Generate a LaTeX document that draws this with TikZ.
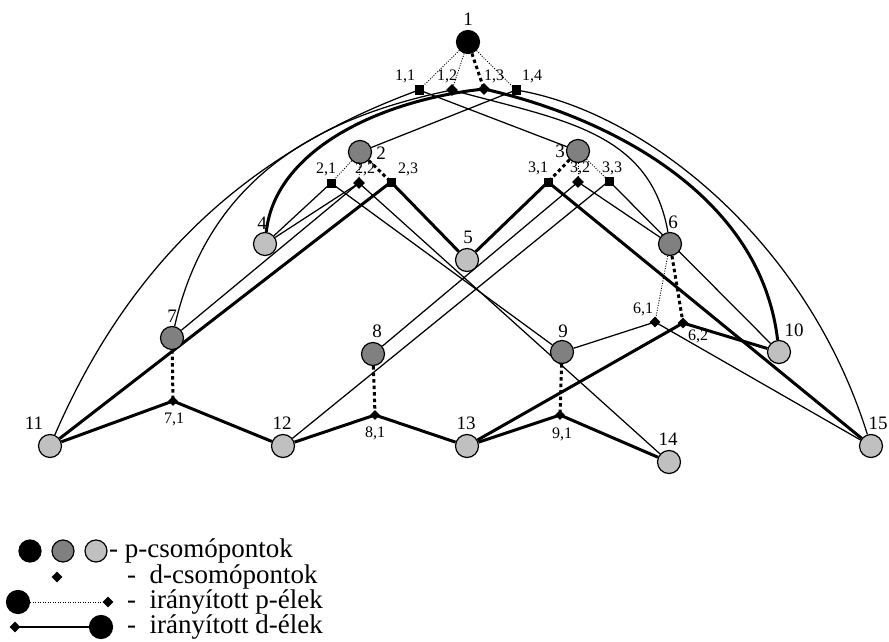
\documentclass[tikz,border=0pt]{standalone}
\usepackage{fontspec}
\setmainfont{Liberation Serif}
\usetikzlibrary{shapes.geometric,backgrounds}
\definecolor{pdarkc}{RGB}{128,128,128}
\definecolor{plightc}{RGB}{192,192,192}
\begin{document}
\begin{tikzpicture}[x=1pt,y=-1pt,
  pnode/.style={circle,draw=black,line width=1.2pt,minimum size=23pt,inner sep=0pt},
  pblack/.style={pnode,fill=black},
  pdark/.style={pnode,fill=pdarkc},
  plight/.style={pnode,fill=plightc},
  dsq/.style={rectangle,fill=black,minimum size=9pt,inner sep=0pt},
  ddia/.style={diamond,aspect=1,fill=black,minimum size=12pt,inner sep=0pt},
  plab/.style={font=\fontsize{19}{19}\selectfont,inner sep=0pt},
  dlab/.style={font=\fontsize{16}{16}\selectfont,inner sep=0pt},
  leg/.style={font=\fontsize{27}{27}\selectfont,inner sep=0pt,anchor=base west},
  pthin/.style={line width=0.9pt,dash pattern=on 1pt off 1.5pt},
  pthick/.style={line width=3pt,dash pattern=on 3.5pt off 3pt},
  dthin/.style={line width=1.25pt},
  dthick/.style={line width=3pt},
]
\useasboundingbox (0,0) rectangle (889,642);

% p-nodes
\node[pblack] (n1) at (468,42) {};
\node[pdark]  (n2) at (360,152) {};
\node[pdark]  (n3) at (578,151) {};
\node[plight] (n4) at (265,244) {};
\node[plight] (n5) at (467,260) {};
\node[pdark]  (n6) at (670,244) {};
\node[pdark]  (n7) at (172,338) {};
\node[pdark]  (n8) at (373,354) {};
\node[pdark]  (n9) at (562,352) {};
\node[plight] (n10) at (779,352) {};
\node[plight] (n11) at (50,446) {};
\node[plight] (n12) at (283,446) {};
\node[plight] (n13) at (467,446) {};
\node[plight] (n14) at (669,462) {};
\node[plight] (n15) at (871,446) {};

% p-node labels
\node[plab] (t1) at (468,19) {1};
\node[plab] (t2) at (381,153) {2};
\node[plab] (t3) at (560,151) {3};
\node[plab] (t4) at (262,223) {4};
\node[plab] (t5) at (468,237) {5};
\node[plab] (t6) at (673,222) {6};
\node[plab] (t7) at (172,316) {7};
\node[plab] (t8) at (377,331) {8};
\node[plab] (t9) at (563,331) {9};
\node[plab] (t10) at (794,330) {10};
\node[plab] (t11) at (34,423) {11};
\node[plab] (t12) at (282,423) {12};
\node[plab] (t13) at (466,423) {13};
\node[plab] (t14) at (668,439) {14};
\node[plab] (t15) at (878,423) {15};

% d-nodes
\node[dsq]  (d11) at (419,90) {};
\node[ddia] (d12) at (452,90) {};
\node[ddia] (d13) at (484,89) {};
\node[dsq]  (d14) at (516,90) {};
\node[dsq]  (d21) at (331,183) {};
\node[ddia] (d22) at (359,183) {};
\node[dsq]  (d23) at (391,182) {};
\node[dsq]  (d31) at (548,182) {};
\node[ddia] (d32) at (578,182) {};
\node[dsq]  (d33) at (609,181) {};
\node[ddia,minimum size=11pt] (d61) at (655,322) {};
\node[ddia,minimum size=11pt] (d62) at (683,323) {};
\node[ddia,minimum size=10pt] (d71) at (173,401) {};
\node[ddia,minimum size=10pt] (d81) at (375,415) {};
\node[ddia,minimum size=10pt] (d91) at (560,415) {};

% d-node labels
\node[dlab] (u11) at (405,76) {1,1};
\node[dlab] (u12) at (447,76) {1,2};
\node[dlab] (u13) at (494,76) {1,3};
\node[dlab] (u14) at (532,76) {1,4};
\node[dlab] (u21) at (326,169) {2,1};
\node[dlab] (u22) at (365,169) {2,2};
\node[dlab] (u23) at (408,169) {2,3};
\node[dlab] (u31) at (538,168) {3,1};
\node[dlab] (u32) at (580,168) {3,2};
\node[dlab] (u33) at (612,168) {3,3};
\node[dlab] (u61) at (643,309) {6,1};
\node[dlab] (u62) at (698,336) {6,2};
\node[dlab] (u71) at (174,419) {7,1};
\node[dlab] (u81) at (375,433) {8,1};
\node[dlab] (u91) at (562,434) {9,1};

\begin{scope}[on background layer]
  % p-edges: from p-nodes to their d-nodes
  \draw[pthin]  (n1) -- (d11.center);
  \draw[pthin]  (n1) -- (d12.center);
  \draw[pthick] (n1) -- (d13.center);
  \draw[pthin]  (n1) -- (d14.center);
  \draw[pthin]  (n2) -- (d21.center);
  \draw[pthin]  (n2) -- (d22.center);
  \draw[pthick] (n2) -- (d23.center);
  \draw[pthick] (n3) -- (d31.center);
  \draw[pthin]  (n3) -- (d32.center);
  \draw[pthin]  (n3) -- (d33.center);
  \draw[pthin]  (n6) -- (d61.center);
  \draw[pthick] (n6) -- (d62.center);
  \draw[pthick] (n7) -- (d71.center);
  \draw[pthick] (n8) -- (d81.center);
  \draw[pthick] (n9) -- (d91.center);

  % d-edges of 1,1 .. 1,4
  \draw[dthin]  (d11.center) .. controls (260,148) and (135,250) .. (n11);
  \draw[dthin]  (d11.center) -- (n3);
  \draw[dthin]  (d12.center) .. controls (330,115) and (210,170) .. (n7);
  \draw[dthin]  (d12.center) .. controls (560,120) and (650,130) .. (n6);
  \draw[dthick] (d13.center) .. controls (380,100) and (275,150) .. (n4);
  \draw[dthick] (d13.center) .. controls (600,115) and (760,190) .. (n10);
  \draw[dthin]  (d14.center) -- (n2);
  \draw[dthin]  (d14.center) .. controls (640,110) and (805,235) .. (n15);

  % d-edges of 2,1 .. 2,3
  \draw[dthin]  (d21.center) -- (n4);
  \draw[dthin]  (d21.center) -- (n9);
  \draw[dthin]  (d22.center) -- (n4);
  \draw[dthin]  (d22.center) -- (n7);
  \draw[dthin]  (d22.center) -- (n14);
  \draw[dthick] (d23.center) -- (n5);
  \draw[dthick] (d23.center) -- (n11);

  % d-edges of 3,1 .. 3,3
  \draw[dthick] (d31.center) -- (n5);
  \draw[dthick] (d31.center) -- (n15);
  \draw[dthin]  (d32.center) -- (n8);
  \draw[dthin]  (d32.center) -- (n6);
  \draw[dthin]  (d33.center) -- (n12);
  \draw[dthin]  (d33.center) -- (n10);

  % d-edges of 6,x .. 9,1
  \draw[dthin]  (d61.center) -- (n9);
  \draw[dthin]  (d61.center) -- (n15);
  \draw[dthick] (d62.center) -- (n10);
  \draw[dthick] (d62.center) -- (n13);
  \draw[dthick] (d71.center) -- (n11);
  \draw[dthick] (d71.center) -- (n12);
  \draw[dthick] (d81.center) -- (n12);
  \draw[dthick] (d81.center) -- (n13);
  \draw[dthick] (d91.center) -- (n13);
  \draw[dthick] (d91.center) -- (n14);
\end{scope}

% legend
\node[pblack,minimum size=22pt] (lb1) at (30,551) {};
\node[pdark,minimum size=22pt]  (lg1) at (63,551) {};
\node[plight,minimum size=22pt] (ll1) at (96,551) {};
\node[leg] (lt1) at (109,557) {- p-csomópontok};
\node[ddia,minimum size=11pt] (ld2) at (57,577) {};
\node[leg] (lt2) at (127,583) {- \ d-csomópontok};
\node[pblack] (lb3) at (18,602) {};
\node[ddia,minimum size=11pt] (ld3) at (108,602) {};
\node[leg] (lt3) at (127,608) {- \ irányított p-élek};
\node[ddia,minimum size=11pt] (ld4) at (15,627) {};
\node[pblack] (lb4) at (101,627) {};
\node[leg] (lt4) at (127,633) {- \ irányított d-élek};
\begin{scope}[on background layer]
  \draw[pthin] (lb3) -- (ld3.center);
  \draw[dthin] (ld4.center) -- (lb4);
\end{scope}
\end{tikzpicture}
\end{document}
